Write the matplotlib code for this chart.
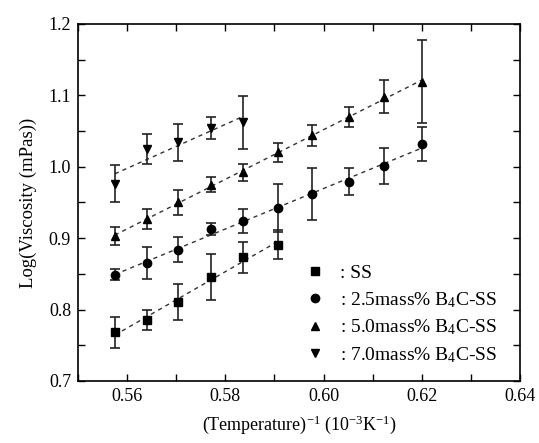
import numpy as np
import matplotlib.pyplot as plt
from matplotlib.ticker import MultipleLocator, FormatStrFormatter

plt.rcParams['font.family'] = ['Liberation Serif', 'DejaVu Serif']
plt.rcParams['mathtext.fontset'] = 'custom'
plt.rcParams['mathtext.rm'] = 'Liberation Serif'
plt.rcParams['mathtext.it'] = 'Liberation Serif:italic'

# inverse temperature (10^-3 K^-1)
inv_t = [0.5575, 0.5641, 0.5704, 0.5770, 0.5837, 0.5907, 0.5977, 0.6051, 0.6124, 0.6200]

# SS
ss_y = [0.768, 0.785, 0.811, 0.846, 0.873, 0.891]
ss_err = [0.022, 0.014, 0.025, 0.032, 0.022, 0.020]

# 2.5mass% B4C-SS
b25_y = [0.849, 0.865, 0.884, 0.913, 0.924, 0.942, 0.962, 0.979, 1.001, 1.032]
b25_err = [0.008, 0.022, 0.018, 0.008, 0.017, 0.034, 0.036, 0.019, 0.025, 0.024]

# 5.0mass% B4C-SS
b50_y = [0.903, 0.927, 0.950, 0.975, 0.992, 1.020, 1.044, 1.069, 1.098, 1.119]
b50_err = [0.012, 0.014, 0.017, 0.011, 0.012, 0.013, 0.015, 0.014, 0.023, 0.058]

# 7.0mass% B4C-SS
b70_y = [0.976, 1.025, 1.034, 1.054, 1.062]
b70_err = [0.026, 0.021, 0.026, 0.015, 0.037]

series = [
    (ss_y, ss_err, 's', ': SS'),
    (b25_y, b25_err, 'o', ': 2.5mass% B$_4$C-SS'),
    (b50_y, b50_err, '^', ': 5.0mass% B$_4$C-SS'),
    (b70_y, b70_err, 'v', ': 7.0mass% B$_4$C-SS'),
]

fig = plt.figure(figsize=(5.39, 4.43), dpi=100)
ax = fig.add_axes([0.1447, 0.14, 0.82, 0.806])

for y, err, m, lab in series:
    x = np.array(inv_t[:len(y)])
    y = np.array(y)
    # linear fit, dashed
    k, b = np.polyfit(x, y, 1)
    ax.plot(x, k * x + b, linestyle=(0, (3, 3)), color='#333333', linewidth=1.0)
    ax.errorbar(x, y, yerr=err, fmt=m, color='black', markersize=6,
                ecolor='#222222', elinewidth=1.2, capsize=3.5, capthick=1.2,
                label=lab)

ax.set_xlim(0.55, 0.64)
ax.set_ylim(0.7, 1.2)
ax.xaxis.set_major_locator(MultipleLocator(0.02))
ax.xaxis.set_minor_locator(MultipleLocator(0.01))
ax.yaxis.set_major_locator(MultipleLocator(0.1))
ax.yaxis.set_minor_locator(MultipleLocator(0.05))
ax.xaxis.set_major_formatter(FormatStrFormatter('%.2f'))
ax.yaxis.set_major_formatter(FormatStrFormatter('%.1f'))
ax.tick_params(which='both', direction='in', top=True, right=True,
               length=5, width=1, labelsize=13, pad=5)
for s in ax.spines.values():
    s.set_linewidth(1.2)

ax.set_xlabel('(Temperature)$^{-1}$ (10$^{-3}$K$^{-1}$)', fontsize=13, labelpad=6)
ax.set_ylabel('Log(Viscosity (mPas))', fontsize=13.5, labelpad=8)

handles, labels = ax.get_legend_handles_labels()
handles = [h[0] for h in handles]
ax.legend(handles, labels, loc='lower right', frameon=False, fontsize=14,
          handletextpad=0.7, labelspacing=0.4, handlelength=1.2,
          borderpad=0.2, bbox_to_anchor=(0.98, 0.008))

fig.savefig('out.png', dpi=100)
